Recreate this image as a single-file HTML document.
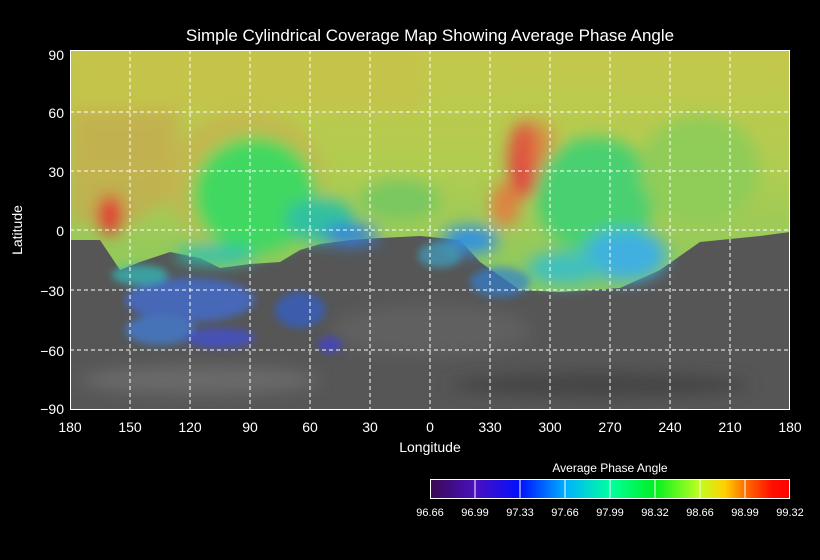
<!DOCTYPE html>
<html><head><meta charset="utf-8"><style>
html,body{margin:0;padding:0;background:#000;}
svg{display:block}
text{font-family:"Liberation Sans",sans-serif;fill:#fff}
</style></head><body>
<svg width="820" height="560" viewBox="0 0 820 560" xmlns="http://www.w3.org/2000/svg">
<defs>
<filter id="b8" x="-50%" y="-50%" width="200%" height="200%"><feGaussianBlur stdDeviation="8"/></filter>
<filter id="b4" x="-50%" y="-50%" width="200%" height="200%"><feGaussianBlur stdDeviation="4"/></filter>
<clipPath id="map"><rect x="70" y="50" width="720" height="359"/></clipPath>
<linearGradient id="cb" x1="0" x2="1" y1="0" y2="0">
<stop offset="0" stop-color="#3a0a50"/><stop offset="0.125" stop-color="#4a10c0"/>
<stop offset="0.25" stop-color="#0010ff"/><stop offset="0.375" stop-color="#00b0ff"/>
<stop offset="0.5" stop-color="#00ffa0"/><stop offset="0.625" stop-color="#00f020"/>
<stop offset="0.75" stop-color="#c0ff20"/><stop offset="0.82" stop-color="#ffd000"/>
<stop offset="0.875" stop-color="#ff7000"/><stop offset="0.95" stop-color="#ff1000"/><stop offset="1" stop-color="#ff0000"/>
</linearGradient>
<linearGradient id="top" x1="0" x2="0" y1="0" y2="1">
<stop offset="0" stop-color="#c4c84c"/><stop offset="0.5" stop-color="#b0cc50"/><stop offset="1" stop-color="#88c860"/>
</linearGradient>
</defs>
<text x="430" y="41" font-size="17" text-anchor="middle">Simple Cylindrical Coverage Map Showing Average Phase Angle</text>
<g clip-path="url(#map)">
<rect x="70" y="50" width="720" height="360" fill="#565656"/>
<ellipse cx="200" cy="380" rx="120" ry="14" fill="#6a6a6a" filter="url(#b8)"/>
<ellipse cx="600" cy="385" rx="150" ry="12" fill="#444" filter="url(#b8)"/>
<ellipse cx="430" cy="330" rx="100" ry="25" fill="#606060" filter="url(#b8)"/>
<path d="M70,50 H790 V232 L760,236 L700,242 L660,270 L620,288 L560,292 L520,290 L480,262 L460,240 L420,236 L380,238 L350,240 L320,244 L300,250 L280,262 L250,264 L220,268 L200,258 L170,252 L140,262 L120,270 L100,240 L70,240 Z" fill="url(#top)"/>
<g filter="url(#b8)">
<path d="M70,50 H420 V110 H70Z" fill="#c8c048" opacity="0.6"/>
<path d="M70,110 L180,110 L170,200 L120,230 L70,220Z" fill="#c8a850" opacity="0.7"/>
<ellipse cx="245" cy="180" rx="80" ry="68" fill="#c8b050" opacity="0.7"/>
<ellipse cx="255" cy="195" rx="62" ry="58" fill="#40d860"/>
<ellipse cx="320" cy="220" rx="35" ry="22" fill="#30c0a0"/>
<ellipse cx="350" cy="235" rx="28" ry="10" fill="#3080e0"/>
<ellipse cx="215" cy="255" rx="40" ry="9" fill="#30c0b0"/>
<ellipse cx="110" cy="215" rx="12" ry="20" fill="#e03030"/>
<ellipse cx="400" cy="200" rx="40" ry="20" fill="#78c860"/>
<ellipse cx="525" cy="160" rx="16" ry="38" fill="#e04040"/>
<ellipse cx="540" cy="150" rx="18" ry="30" fill="#e08040" opacity="0.6"/>
<ellipse cx="505" cy="205" rx="14" ry="22" fill="#e08040"/>
<ellipse cx="595" cy="195" rx="60" ry="58" fill="#48d070"/>
<ellipse cx="625" cy="255" rx="42" ry="26" fill="#40b0e0"/>
<ellipse cx="565" cy="268" rx="38" ry="16" fill="#40c0c0"/>
<ellipse cx="700" cy="170" rx="60" ry="55" fill="#90cc58"/>
<ellipse cx="470" cy="240" rx="28" ry="14" fill="#3090e0"/>
</g>
<g filter="url(#b4)" opacity="0.7">
<ellipse cx="190" cy="300" rx="65" ry="22" fill="#4070e0"/>
<ellipse cx="160" cy="330" rx="35" ry="15" fill="#4080e0"/>
<ellipse cx="220" cy="338" rx="35" ry="10" fill="#4050e0"/>
<ellipse cx="300" cy="310" rx="25" ry="18" fill="#3060d0"/>
<ellipse cx="140" cy="275" rx="28" ry="10" fill="#30c0c0"/>
<ellipse cx="500" cy="282" rx="30" ry="15" fill="#3080d0"/>
<ellipse cx="440" cy="255" rx="22" ry="13" fill="#40a0c0"/>
<ellipse cx="330" cy="345" rx="12" ry="8" fill="#4040e0"/>
</g>
<g stroke="#fff" stroke-width="1" stroke-dasharray="4,3" fill="none">
<path d="M130,50V409M190,50V409M250,50V409M310,50V409M370,50V409M430,50V409M490,50V409M550,50V409M610,50V409M670,50V409M730,50V409"/>
<path d="M70,112H790M70,171H790M70,230H790M70,290H790M70,350H790"/>
</g>
</g>
<rect x="70.5" y="50.5" width="719" height="359" fill="none" stroke="#fff"/>
<g font-size="14" text-anchor="end">
<text x="64" y="60">90</text><text x="64" y="118">60</text><text x="64" y="177">30</text>
<text x="64" y="236">0</text><text x="64" y="296">−30</text><text x="64" y="356">−60</text><text x="64" y="414">−90</text>
</g>
<g font-size="14" text-anchor="middle">
<text x="70" y="432">180</text><text x="130" y="432">150</text><text x="190" y="432">120</text><text x="250" y="432">90</text>
<text x="310" y="432">60</text><text x="370" y="432">30</text><text x="430" y="432">0</text><text x="490" y="432">330</text>
<text x="550" y="432">300</text><text x="610" y="432">270</text><text x="670" y="432">240</text><text x="730" y="432">210</text><text x="790" y="432">180</text>
</g>
<text x="430" y="452" font-size="14" text-anchor="middle">Longitude</text>
<text transform="translate(22,230) rotate(-90)" font-size="14" text-anchor="middle">Latitude</text>
<text x="610" y="472" font-size="12" text-anchor="middle">Average Phase Angle</text>
<rect x="430.5" y="479.5" width="359" height="19" fill="url(#cb)" stroke="#fff"/>
<path d="M475,480V499M520,480V499M565,480V499M610,480V499M655,480V499M700,480V499M745,480V499" stroke="#fff" stroke-width="1"/>
<g font-size="11" text-anchor="middle">
<text x="430" y="516">96.66</text><text x="475" y="516">96.99</text><text x="520" y="516">97.33</text>
<text x="565" y="516">97.66</text><text x="610" y="516">97.99</text><text x="655" y="516">98.32</text>
<text x="700" y="516">98.66</text><text x="745" y="516">98.99</text><text x="790" y="516">99.32</text>
</g>
</svg>
</body></html>
